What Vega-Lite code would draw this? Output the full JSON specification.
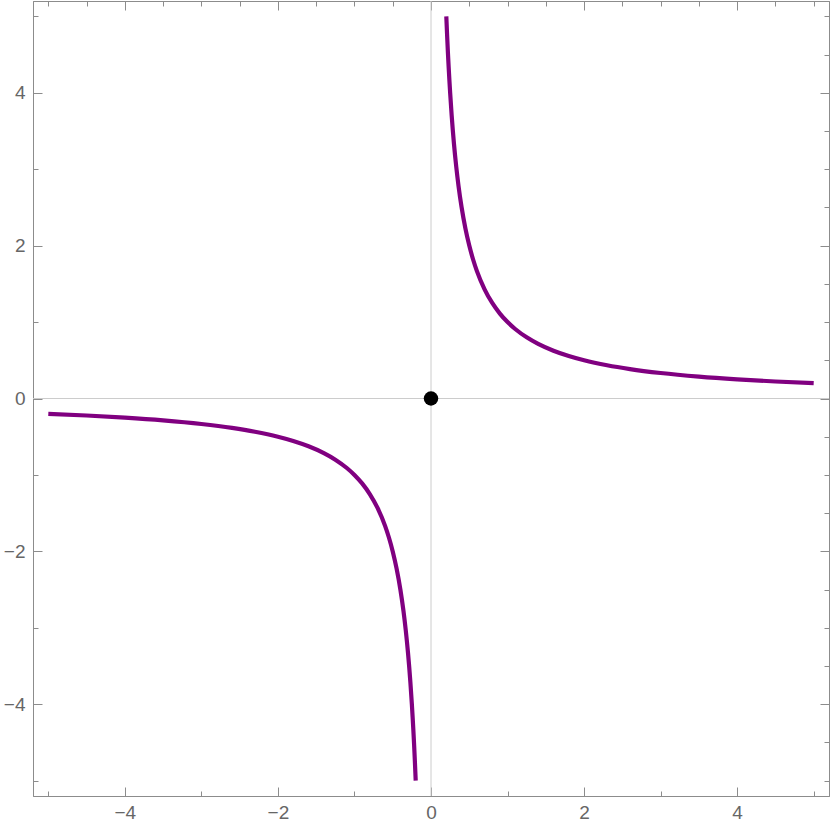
{
  "$schema": "https://vega.github.io/schema/vega-lite/v6.json",
  "width": 796,
  "height": 795,
  "autosize": "none",
  "padding": {"left": 33, "top": 1, "right": 1, "bottom": 34},
  "background": "white",
  "config": {
    "view": {"stroke": "#8c8c8c", "strokeWidth": 1},
    "axis": {
      "grid": false,
      "domainColor": "#8c8c8c",
      "tickColor": "#8c8c8c",
      "labelColor": "#666666",
      "labelFont": "Liberation Sans",
      "labelFontSize": 19,
      "title": null
    }
  },
  "datasets": {
    "curve": [
      {"x": -5, "y": -0.2, "b": "neg"},
      {"x": -4.5, "y": -0.2222, "b": "neg"},
      {"x": -4, "y": -0.25, "b": "neg"},
      {"x": -3.5, "y": -0.2857, "b": "neg"},
      {"x": -3, "y": -0.3333, "b": "neg"},
      {"x": -2.6, "y": -0.3846, "b": "neg"},
      {"x": -2.3, "y": -0.4348, "b": "neg"},
      {"x": -2, "y": -0.5, "b": "neg"},
      {"x": -1.8, "y": -0.5556, "b": "neg"},
      {"x": -1.6, "y": -0.625, "b": "neg"},
      {"x": -1.4, "y": -0.7143, "b": "neg"},
      {"x": -1.25, "y": -0.8, "b": "neg"},
      {"x": -1.1, "y": -0.9091, "b": "neg"},
      {"x": -1, "y": -1, "b": "neg"},
      {"x": -0.9, "y": -1.1111, "b": "neg"},
      {"x": -0.8, "y": -1.25, "b": "neg"},
      {"x": -0.7, "y": -1.4286, "b": "neg"},
      {"x": -0.6, "y": -1.6667, "b": "neg"},
      {"x": -0.55, "y": -1.8182, "b": "neg"},
      {"x": -0.5, "y": -2, "b": "neg"},
      {"x": -0.45, "y": -2.2222, "b": "neg"},
      {"x": -0.4, "y": -2.5, "b": "neg"},
      {"x": -0.36, "y": -2.7778, "b": "neg"},
      {"x": -0.33, "y": -3.0303, "b": "neg"},
      {"x": -0.3, "y": -3.3333, "b": "neg"},
      {"x": -0.27, "y": -3.7037, "b": "neg"},
      {"x": -0.25, "y": -4, "b": "neg"},
      {"x": -0.24, "y": -4.1667, "b": "neg"},
      {"x": -0.23, "y": -4.3478, "b": "neg"},
      {"x": -0.22, "y": -4.5455, "b": "neg"},
      {"x": -0.21, "y": -4.7619, "b": "neg"},
      {"x": -0.2, "y": -5, "b": "neg"},
      {"x": 0.2, "y": 5, "b": "pos"},
      {"x": 0.21, "y": 4.7619, "b": "pos"},
      {"x": 0.22, "y": 4.5455, "b": "pos"},
      {"x": 0.23, "y": 4.3478, "b": "pos"},
      {"x": 0.24, "y": 4.1667, "b": "pos"},
      {"x": 0.25, "y": 4, "b": "pos"},
      {"x": 0.27, "y": 3.7037, "b": "pos"},
      {"x": 0.3, "y": 3.3333, "b": "pos"},
      {"x": 0.33, "y": 3.0303, "b": "pos"},
      {"x": 0.36, "y": 2.7778, "b": "pos"},
      {"x": 0.4, "y": 2.5, "b": "pos"},
      {"x": 0.45, "y": 2.2222, "b": "pos"},
      {"x": 0.5, "y": 2, "b": "pos"},
      {"x": 0.55, "y": 1.8182, "b": "pos"},
      {"x": 0.6, "y": 1.6667, "b": "pos"},
      {"x": 0.7, "y": 1.4286, "b": "pos"},
      {"x": 0.8, "y": 1.25, "b": "pos"},
      {"x": 0.9, "y": 1.1111, "b": "pos"},
      {"x": 1, "y": 1, "b": "pos"},
      {"x": 1.1, "y": 0.9091, "b": "pos"},
      {"x": 1.25, "y": 0.8, "b": "pos"},
      {"x": 1.4, "y": 0.7143, "b": "pos"},
      {"x": 1.6, "y": 0.625, "b": "pos"},
      {"x": 1.8, "y": 0.5556, "b": "pos"},
      {"x": 2, "y": 0.5, "b": "pos"},
      {"x": 2.3, "y": 0.4348, "b": "pos"},
      {"x": 2.6, "y": 0.3846, "b": "pos"},
      {"x": 3, "y": 0.3333, "b": "pos"},
      {"x": 3.5, "y": 0.2857, "b": "pos"},
      {"x": 4, "y": 0.25, "b": "pos"},
      {"x": 4.5, "y": 0.2222, "b": "pos"},
      {"x": 5, "y": 0.2, "b": "pos"}
    ],
    "origin": [{"x": 0, "y": 0}]
  },
  "resolve": {"axis": {"x": "independent", "y": "independent"}},
  "layer": [
    {
      "data": {"name": "origin"},
      "mark": {"type": "rule", "color": "#cccccc", "strokeWidth": 1},
      "encoding": {
        "x": {"field": "x", "type": "quantitative", "scale": {"domain": [-5.2, 5.2], "nice": false, "zero": false},
          "axis": {"orient": "bottom", "values": [-5,-4.5,-4,-3.5,-3,-2.5,-2,-1.5,-1,-0.5,0,0.5,1,1.5,2,2.5,3,3.5,4,4.5,5],
            "format": "d",
            "labelExpr": "datum.value % 2 === 0 ? datum.label : ''",
            "tickSize": {"condition": {"test": "datum.value % 2 === 0", "value": -9}, "value": -5},
            "labelPadding": 16}}
      }
    },
    {
      "data": {"name": "origin"},
      "mark": {"type": "rule", "color": "#cccccc", "strokeWidth": 1},
      "encoding": {
        "y": {"field": "y", "type": "quantitative", "scale": {"domain": [-5.2, 5.2], "nice": false, "zero": false},
          "axis": {"orient": "left", "values": [-5,-4.5,-4,-3.5,-3,-2.5,-2,-1.5,-1,-0.5,0,0.5,1,1.5,2,2.5,3,3.5,4,4.5,5],
            "format": "d",
            "labelExpr": "datum.value % 2 === 0 ? datum.label : ''",
            "tickSize": {"condition": {"test": "datum.value % 2 === 0", "value": -9}, "value": -5},
            "labelPadding": 17}}
      }
    },
    {
      "data": {"name": "curve"},
      "mark": {"type": "line", "color": "#800080", "strokeWidth": 4.2, "interpolate": "monotone", "clip": true},
      "encoding": {
        "x": {"field": "x", "type": "quantitative",
          "axis": {"orient": "top", "values": [-5,-4.5,-4,-3.5,-3,-2.5,-2,-1.5,-1,-0.5,0,0.5,1,1.5,2,2.5,3,3.5,4,4.5,5],
            "labels": false,
            "tickSize": {"condition": {"test": "datum.value % 2 === 0", "value": -9}, "value": -5}}},
        "y": {"field": "y", "type": "quantitative",
          "axis": {"orient": "right", "values": [-5,-4.5,-4,-3.5,-3,-2.5,-2,-1.5,-1,-0.5,0,0.5,1,1.5,2,2.5,3,3.5,4,4.5,5],
            "labels": false,
            "tickSize": {"condition": {"test": "datum.value % 2 === 0", "value": -9}, "value": -5}}},
        "detail": {"field": "b"},
        "order": {"field": "x", "type": "quantitative"}
      }
    },
    {
      "data": {"name": "origin"},
      "mark": {"type": "point", "filled": true, "color": "black", "opacity": 1, "size": 210},
      "encoding": {
        "x": {"field": "x", "type": "quantitative", "axis": null},
        "y": {"field": "y", "type": "quantitative", "axis": null}
      }
    }
  ]
}
